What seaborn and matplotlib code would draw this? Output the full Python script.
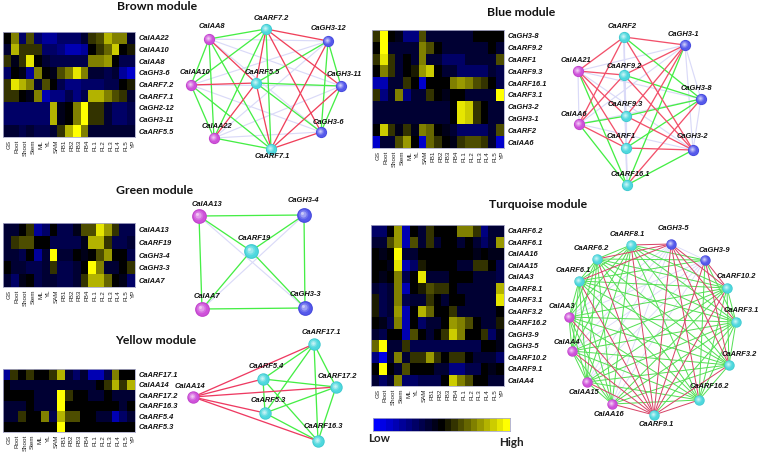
import numpy as np
import matplotlib
matplotlib.use("Agg")
import matplotlib.pyplot as plt
from matplotlib.colors import LinearSegmentedColormap, to_rgb
import seaborn as sns

W, H = 760, 455
tissues = ["GS","Root","Shoot","Stem","ML","YL","SAM","FB1","FB2","FB3","FB4","FL1","FL2","FL3","FL4","FL5","YP"]

brown_genes = ["CaIAA22","CaIAA10","CaIAA8","CaGH3-6","CaARF7.2","CaARF7.1","CaGH2-12","CaGH3-11","CaARF5.5"]
brown_vals = [
 [0,.5,-.4,.3,-.4,-.6,-.6,-.4,-.4,-.4,-.2,.2,.3,.65,.5,.5,-.2],
 [-.2,.65,.2,.2,.2,-.4,-.4,-.5,-.7,-.7,-.6,0,.15,.4,.8,0,.1],
 [.15,-.1,.15,.9,0,-.2,-.3,-.3,-.3,-.3,-.3,.5,.5,.6,0,-.3,-.3],
 [-.4,0,-.1,-.6,.45,0,-.1,.3,.45,.85,.5,-.2,-.2,-.3,-.2,-.6,-.8],
 [.2,.9,.65,.5,-.2,.3,0,-.3,-.5,-.5,-.4,-.4,-.4,-.3,-.3,0,.1],
 [.2,.2,0,-.1,.45,-.7,-.5,-.5,-.3,-.5,-.3,.65,.65,.5,.3,.15,-.2],
 [-.4,-.4,-.4,-.4,-.4,-.4,.65,-.1,0,.5,1,.2,.2,-.2,-.4,-.4,-.3],
 [-.4,-.4,-.4,-.4,-.4,-.4,.65,-.1,0,.5,1,.2,.2,-.2,-.4,-.4,-.3],
 [-.2,-.2,-.3,-.15,-.3,-.3,-.15,.2,.7,1,.5,-.2,-.2,-.2,-.2,-.2,-.2],
]
blue_genes = ["CaGH3-8","CaARF9.2","CaARF1","CaARF9.3","CaARF16.1","CaARF3.1","CaGH3-2","CaGH3-1","CaARF2","CaIAA6"]
blue_vals = [
 [.2,1,0,-.1,-.5,-.5,.3,-.2,-.2,-.2,-.2,-.2,-.2,0,0,0,0],
 [0,1,-.2,-.2,-.2,-.2,.5,.3,0,-.2,-.2,-.2,-.2,-.2,-.2,0,-.2],
 [.15,.85,.15,-.2,0,-.2,.5,-.2,-.2,-.4,-.4,-.4,-.2,-.2,-.2,-.2,.3],
 [0,.5,.15,-.2,0,.1,.6,.75,0,-.2,-.2,-.4,-.4,-.4,-.4,-.2,-.3],
 [-.7,-.7,-.2,-.2,.15,0,-.8,0,0,0,.45,.6,.45,.3,.15,0,-.3],
 [.15,-.5,-.2,.45,-.5,-.2,-.2,.15,0,-.1,0,0,-.2,-.2,-.2,-.2,1],
 [-.15,-.15,-.15,-.15,-.15,-.15,-.15,-.15,-.15,-.15,0,.9,.75,.15,0,-.2,-.2],
 [-.15,-.15,-.15,-.15,-.15,-.15,-.15,-.15,-.15,-.15,0,.9,.75,.15,0,-.2,-.2],
 [0,.75,.15,-.1,.15,-.1,.5,.35,0,-.1,-.2,-.4,-.4,-.4,-.4,-.2,.3],
 [-.8,-.2,-.2,.3,.6,0,-.8,.35,.15,0,-.1,.15,.3,.3,.15,-.2,-.8],
]
green_genes = ["CaIAA13","CaARF19","CaGH3-4","CaGH3-3","CaIAA7"]
green_vals = [
 [-.2,-.2,0,.15,-.6,-.4,0,-.3,-.3,-.1,.3,.3,.85,.6,.15,-.3,-.3],
 [-.2,.15,.3,.3,0,0,-.3,-.3,-.3,-.3,-.1,.7,.7,.15,-.3,-.3,-.2],
 [-.2,-.2,-.3,0,-.6,-.2,1,-.2,-.2,0,-.1,0,.3,.6,0,0,-.3],
 [0,-.2,-.2,-.3,-.3,-.15,.15,-.3,-.3,-.15,0,1,.45,-.2,-.2,0,.15],
 [-.2,-.4,-.1,0,-.3,-.15,-.15,-.3,-.3,-.15,.15,.7,.7,.4,0,-.1,-.4],
]
yellow_genes = ["CaARF17.1","CaIAA14","CaARF17.2","CaARF16.3","CaARF5.4","CaARF5.3"]
yellow_vals = [
 [-.6,.15,0,.15,0,0,.15,.7,-.2,-.4,-.2,-.7,-.7,-.3,.5,0,0],
 [0,-.2,-.2,-.2,-.2,-.2,-.2,-.2,-.2,-.2,-.2,-.2,0,.15,.7,.15,.7],
 [0,0,0,0,-.2,-.2,-.2,1,.15,0,0,-.2,-.2,0,-.2,-.2,-.2],
 [-.2,-.2,-.2,0,-.2,-.2,-.2,1,0,0,0,0,0,0,0,-.15,0],
 [-.2,-.2,.15,0,0,.5,-.3,.65,.3,.3,0,0,-.15,-.2,-.7,-.4,-.15],
 [0,0,0,0,0,0,0,1,0,0,0,0,0,0,0,0,0],
]
turq_genes = ["CaARF6.2","CaARF6.1","CaIAA16","CaIAA15","CaIAA3","CaARF8.1","CaARF3.1","CaARF3.2","CaARF16.2","CaGH3-9","CaGH3-5","CaARF10.2","CaARF9.1","CaIAA4"]
turq_vals = [
 [-.4,-.4,0,.6,-.7,0,-.2,.15,0,0,0,.45,.45,.15,-.5,-.2,-.2],
 [-.2,-.2,.3,.6,-.7,.3,-.2,.15,-.2,0,0,-.2,0,-.2,-.4,-.2,.6],
 [0,-.1,0,1,-.2,-.2,0,0,0,0,0,0,0,-.1,0,-.1,-.1],
 [0,0,-.1,.85,-.7,-.4,.1,0,0,0,0,-.2,-.2,.15,.15,0,-.3],
 [0,-.1,0,.45,-.3,0,.85,-.2,-.2,-.2,0,0,0,-.2,-.2,-.2,-.3],
 [-.2,-.3,-.2,.45,-.7,0,.1,.3,.15,.15,0,-.2,-.2,-.2,-.2,-.2,.65],
 [.1,-.3,-.2,.45,-.3,-.2,-.2,.15,0,-.2,0,0,-.2,-.2,-.2,-.2,.85],
 [.1,-.3,-.2,.6,-.7,0,.7,.35,0,0,.15,-.2,-.2,-.2,-.2,-.2,0],
 [0,-.1,-.3,.5,-.7,0,-.4,-.2,-.2,0,.6,.5,.25,0,-.2,-.2,.1],
 [-.2,-.3,0,0,-.7,.3,0,-.2,0,.15,.75,.5,0,0,.15,-.4,-.1],
 [.4,1,-.2,-.2,.15,-.3,-.3,-.3,-.3,-.3,-.3,-.3,-.3,-.3,0,0,-.1],
 [-.5,-.9,-.2,.45,-.2,.15,.15,.6,.15,0,.2,.2,0,-.2,-.2,-.2,-.4],
 [0,1,0,-.2,.3,0,0,0,-.2,-.2,-.5,-.5,-.3,-.3,0,-.1,0],
 [-.2,-.4,-.2,.45,-.4,-.4,-.3,-.3,-.3,0,.8,.5,.3,0,0,-.2,-.2],
]
key_levels = [-1,-.9,-.8,-.7,-.6,-.5,-.4,-.3,-.2,-.1,0,.1,.2,.3,.4,.5,.6,.7,.8,.9,1]

# networks: name -> (node x, node y, label x, label y) in figure pixels
brown_nodes = {"CaARF7.2":(266,29,271,19),"CaIAA8":(209,39,212,27),"CaGH3-12":(328,41,328,29),
 "CaIAA10":(191,85,195,73),"CaARF5.5":(256,83,262,72),"CaGH3-11":(341,86,344,75),
 "CaIAA22":(214,138,217,127),"CaGH3-6":(321,132,328,122),"CaARF7.1":(271,149,272,157)}
brown_red = [("CaARF7.2","CaGH3-12"),("CaARF7.2","CaGH3-6"),("CaARF7.2","CaARF5.5"),("CaARF7.2","CaGH3-11"),
 ("CaIAA8","CaARF5.5"),("CaIAA10","CaARF5.5"),("CaIAA22","CaARF5.5"),("CaARF5.5","CaARF7.1"),
 ("CaARF7.1","CaGH3-12"),("CaARF7.1","CaGH3-11"),("CaARF7.1","CaGH3-6")]
brown_faint = [("CaIAA8","CaGH3-12"),("CaIAA8","CaGH3-11"),("CaIAA8","CaGH3-6"),("CaIAA10","CaGH3-12"),
 ("CaIAA10","CaGH3-11"),("CaIAA10","CaGH3-6"),("CaIAA22","CaGH3-12"),("CaIAA22","CaGH3-11"),("CaIAA22","CaGH3-6")]

blue_nodes = {"CaARF2":(624,37,622,26),"CaGH3-1":(685,45,683,34),"CaIAA21":(578,71,576,60),"CaARF9.2":(624,75,624,66),
 "CaGH3-8":(701,99,696,88),"CaARF9.3":(626,116,625,105),"CaIAA6":(579,124,574,114),"CaARF1":(626,148,621,137),
 "CaGH3-2":(693,150,692,136),"CaARF16.1":(627,185,630,174)}
blue_green = [("CaARF2","CaGH3-8"),("CaGH3-1","CaARF16.1"),("CaGH3-8","CaARF9.2"),("CaGH3-8","CaARF9.3"),
 ("CaGH3-8","CaARF1"),("CaIAA6","CaARF9.3"),("CaIAA6","CaARF16.1"),("CaIAA21","CaARF16.1"),("CaGH3-2","CaARF16.1")]
blue_red = [("CaARF2","CaGH3-1"),("CaARF2","CaGH3-2"),("CaARF2","CaIAA21"),("CaARF2","CaIAA6"),
 ("CaGH3-1","CaARF9.2"),("CaGH3-1","CaARF9.3"),("CaGH3-1","CaARF1"),("CaGH3-8","CaARF16.1"),
 ("CaIAA6","CaARF9.2"),("CaIAA6","CaARF1"),("CaIAA21","CaARF9.2"),("CaIAA21","CaARF9.3"),("CaIAA21","CaARF1"),
 ("CaGH3-2","CaARF9.2"),("CaGH3-2","CaARF9.3"),("CaGH3-2","CaARF1")]

green_nodes = {"CaIAA13":(199,216,207,205),"CaGH3-4":(304,215,303,201),"CaARF19":(251,251,254,238),
 "CaIAA7":(202,309,207,297),"CaGH3-3":(305,308,305,295)}
green_faint = [("CaIAA13","CaGH3-3"),("CaGH3-4","CaIAA7")]

yellow_nodes = {"CaARF17.1":(314,344,321,332),"CaARF5.4":(263,379,266,367),"CaARF17.2":(336,387,337,376),
 "CaIAA14":(193,397,190,386),"CaARF5.3":(265,413,268,400),"CaARF16.3":(318,441,323,426)}
yellow_red = [("CaIAA14","CaARF17.1"),("CaIAA14","CaARF5.4"),("CaIAA14","CaARF17.2"),("CaIAA14","CaARF5.3"),("CaIAA14","CaARF16.3")]

turq_nodes = {"CaARF8.1":(631,245,627,235),"CaGH3-5":(671,244,673,229),"CaARF6.2":(597,259,591,249),
 "CaGH3-9":(705,260,714,250),"CaARF6.1":(579,281,573,270),"CaARF10.2":(727,288,736,277),"CaIAA3":(569,317,562,306),
 "CaARF3.1":(736,322,741,310),"CaIAA4":(572,351,567,342),"CaARF3.2":(729,365,739,354),"CaIAA15":(587,382,584,393),
 "CaARF16.2":(699,400,709,387),"CaIAA16":(612,404,609,415),"CaARF9.1":(654,415,656,424)}
turq_red = [("CaGH3-5","CaARF8.1"),("CaGH3-5","CaARF6.2"),("CaGH3-5","CaARF6.1"),("CaGH3-5","CaARF10.2"),
 ("CaGH3-5","CaARF3.1"),("CaGH3-5","CaARF3.2"),("CaGH3-5","CaARF16.2"),("CaGH3-5","CaARF9.1"),
 ("CaGH3-9","CaARF9.1"),("CaGH3-9","CaARF10.2"),("CaGH3-9","CaARF3.2"),
 ("CaARF9.1","CaIAA3"),("CaARF9.1","CaIAA4"),("CaARF9.1","CaIAA15"),("CaARF9.1","CaIAA16"),("CaARF9.1","CaARF6.1"),
 ("CaARF9.1","CaARF6.2"),("CaARF9.1","CaARF8.1"),("CaARF9.1","CaARF3.2"),("CaARF9.1","CaARF16.2"),("CaARF9.1","CaARF10.2")]
turq_faint = [("CaGH3-5","CaGH3-9"),("CaGH3-5","CaIAA3"),("CaGH3-5","CaIAA4"),("CaGH3-5","CaIAA15"),("CaGH3-5","CaIAA16"),
 ("CaGH3-9","CaIAA3"),("CaGH3-9","CaIAA4"),("CaGH3-9","CaIAA15"),("CaGH3-9","CaIAA16")]

sns.set_theme(style="white")
plt.rcParams["font.family"] = ["Liberation Sans", "DejaVu Sans"]
cmap = LinearSegmentedColormap.from_list("byk", ["#0000FF", "#000000", "#FFFF00"], N=21)
fig = plt.figure(figsize=(W/100, H/100), dpi=100)

def box(x0, y0, x1, y1):
    return [x0/W, 1-y1/H, (x1-x0)/W, (y1-y0)/H]

def heat(vals, genes, b, label_pad=2.4, tick_pad=2.0):
    ax = fig.add_axes(box(*b))
    sns.heatmap(np.array(vals), ax=ax, cmap=cmap, vmin=-1, vmax=1, cbar=False,
                xticklabels=tissues, yticklabels=genes)
    ax.set_xticks(np.arange(len(tissues))+0.85)
    ax.set_xticklabels(tissues, rotation=90, fontsize=4.5, color="#222222", fontweight="medium")
    ax.set_yticklabels(genes, rotation=0, fontsize=5.4, fontweight="bold", fontstyle="italic", color="#111111")
    ax.tick_params(axis="x", length=0, pad=tick_pad)
    ax.tick_params(axis="y", length=0, pad=label_pad, left=False, right=False, labelleft=False, labelright=True)
    for s in ax.spines.values():
        s.set_visible(True); s.set_color("#A9A9C8"); s.set_linewidth(0.6)

heat(brown_vals, brown_genes, (3,32,135,137))
heat(blue_vals, blue_genes, (372,30,504,148))
heat(green_vals, green_genes, (3,223,135,287))
heat(yellow_vals, yellow_genes, (2.5,369,135,432))
heat(turq_vals, turq_genes, (371,225,504,386))

kax = fig.add_axes(box(373,418,510,431))
sns.heatmap(np.array([key_levels]), ax=kax, cmap=cmap, vmin=-1, vmax=1, cbar=False, xticklabels=False, yticklabels=False)
for s in kax.spines.values():
    s.set_visible(True); s.set_color("#A9A9C8"); s.set_linewidth(0.6)

net = fig.add_axes([0, 0, 1, 1], facecolor="none")
net.set_xlim(0, W); net.set_ylim(H, 0); net.axis("off")

GREEN, RED, FAINT = "#45EE45", "#F0405A", "#DADAF8"
NODE = {"ARF": "#45D6DC", "IAA": "#CC48D8", "GH3": "#4C50EA", "GH2": "#4C50EA"}

def network(nodes, red=(), faint=(), green=None, radius=5.6, lw=1.1, green_c=GREEN, red_c=RED, fs=5.4):
    names = list(nodes)
    key = lambda a, b: frozenset((a, b))
    R = {key(*e) for e in red}; F = {key(*e) for e in faint}
    G = None if green is None else {key(*e) for e in green}
    layers = {"f": [], "g": [], "r": []}
    for i, a in enumerate(names):
        for b in names[i+1:]:
            k = key(a, b)
            if G is not None and k in G and k not in R: layers["g"].append((a, b))
            elif k in R: layers["r"].append((a, b))
            elif k in F or G is not None: layers["f"].append((a, b))
            else: layers["g"].append((a, b))
    for lay, c, w in (("f", FAINT, lw*0.9), ("g", green_c, lw), ("r", red_c, lw)):
        for a, b in layers[lay]:
            net.plot([nodes[a][0], nodes[b][0]], [nodes[a][1], nodes[b][1]], color=c, lw=w*0.72,
                     solid_capstyle="round", zorder=2)
    xs = {}
    for n in names:
        xs.setdefault(n[2:5], []).append(n)
    for grp, members in xs.items():
        base = np.array(to_rgb(NODE[grp]))
        x = np.array([nodes[m][0] for m in members], float)
        y = np.array([nodes[m][1] for m in members], float)
        for f, mix in ((1.0, -0.06), (0.85, 0.05), (0.65, 0.2), (0.42, 0.45), (0.2, 0.7)):
            col = np.clip(base*(1+mix) if mix < 0 else base+(1-base)*mix, 0, 1)
            off = (1-f)*radius*0.3
            d = 2*radius*f*0.72
            sns.scatterplot(x=x-off, y=y-off, ax=net, color=[col], s=d*d, linewidth=0, zorder=3, legend=False)
    net.set_xlim(0, W); net.set_ylim(H, 0)
    for n in names:
        net.text(nodes[n][2], nodes[n][3], n, ha="center", va="center", fontsize=fs, fontweight="bold",
                 fontstyle="italic", color="#111111", zorder=4, clip_on=False)

network(brown_nodes, red=brown_red, faint=brown_faint, radius=5.6, lw=1.3)
network(blue_nodes, red=blue_red, green=blue_green, radius=5.6, lw=1.3, red_c="#F2506A")
network(green_nodes, faint=green_faint, radius=7.4, lw=1.3)
network(yellow_nodes, red=yellow_red, radius=6.2, lw=1.3, red_c="#EE3A62")
network(turq_nodes, red=turq_red, faint=turq_faint, radius=5.2, lw=1.0, green_c="#55E055", red_c="#D84468")

titles = [("Brown module",157,7),("Blue module",521,13),("Green module",155,190),("Yellow module",156,340),("Turquoise module",538,205)]
for t, x, y in titles:
    net.text(x, y, t, ha="center", va="center", fontsize=8.8, fontweight="bold", family=["Lato", "DejaVu Sans"], color="#111111")
net.text(379.5, 439, "Low", ha="center", va="center", fontsize=8.4, fontweight="bold", family=["Lato", "DejaVu Sans"], color="#222222")
net.text(511, 442, "High", ha="center", va="center", fontsize=8.4, fontweight="bold", family=["Lato", "DejaVu Sans"], color="#222222")

fig.savefig("out.png", dpi=100, facecolor="white")
